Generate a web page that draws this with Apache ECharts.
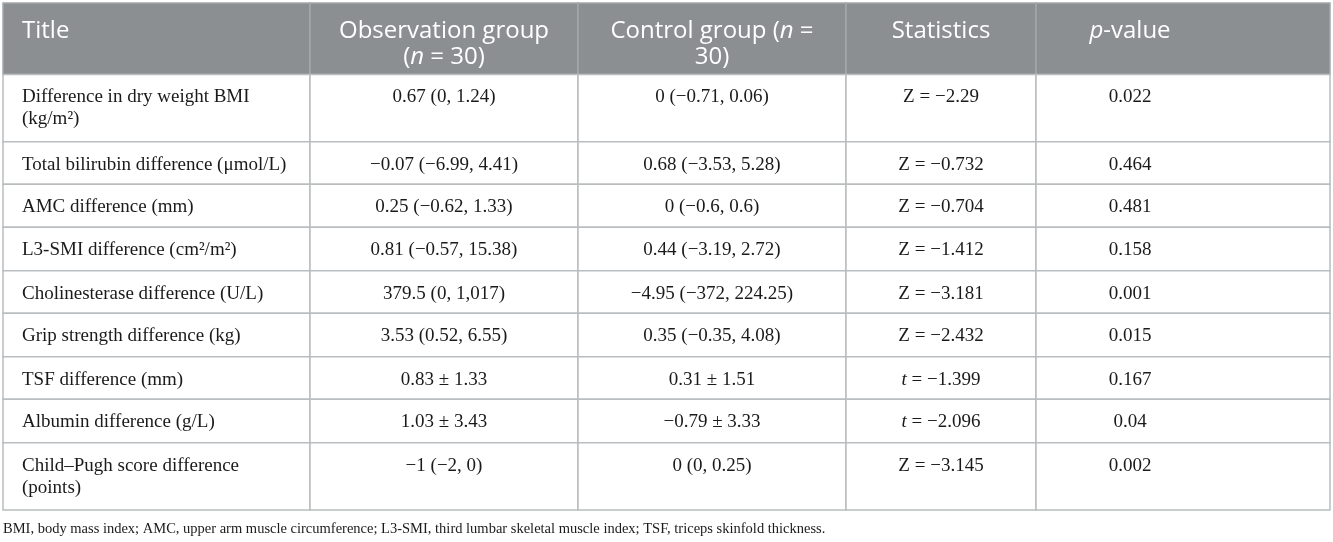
<!DOCTYPE html>
<html>
<head>
<meta charset="utf-8">
<script src="https://cdn.jsdelivr.net/npm/echarts@6/dist/echarts.min.js"></script>
<style>
html,body{margin:0;padding:0;background:#fff;}
#chart{width:1333px;height:542px;}
</style>
</head>
<body>
<div id="chart"></div>
<script>
// ---- data ----
const headers = ["Title", "Observation group\n(n = 30)", "Control group (n =\n30)", "Statistics", "p-value"];
const titles = [
  "Difference in dry weight BMI\n(kg/m²)",
  "Total bilirubin difference (μmol/L)",
  "AMC difference (mm)",
  "L3-SMI difference (cm²/m²)",
  "Cholinesterase difference (U/L)",
  "Grip strength difference (kg)",
  "TSF difference (mm)",
  "Albumin difference (g/L)",
  "Child–Pugh score difference\n(points)"
];
const observation = ["0.67 (0, 1.24)", "−0.07 (−6.99, 4.41)", "0.25 (−0.62, 1.33)", "0.81 (−0.57, 15.38)", "379.5 (0, 1,017)", "3.53 (0.52, 6.55)", "0.83 ± 1.33", "1.03 ± 3.43", "−1 (−2, 0)"];
const control = ["0 (−0.71, 0.06)", "0.68 (−3.53, 5.28)", "0 (−0.6, 0.6)", "0.44 (−3.19, 2.72)", "−4.95 (−372, 224.25)", "0.35 (−0.35, 4.08)", "0.31 ± 1.51", "−0.79 ± 3.33", "0 (0, 0.25)"];
const statistics = ["Z = −2.29", "Z = −0.732", "Z = −0.704", "Z = −1.412", "Z = −3.181", "Z = −2.432", "t = −1.399", "t = −2.096", "Z = −3.145"];
const pValues = ["0.022", "0.464", "0.481", "0.158", "0.001", "0.015", "0.167", "0.04", "0.002"];
const footnote = "BMI, body mass index; AMC, upper arm muscle circumference; L3-SMI, third lumbar skeletal muscle index; TSF, triceps skinfold thickness.";

// ---- layout (positions in the hidden value axes) ----
const colEdges = [3, 310, 578, 846, 1036, 1330];
const colAlign = ['left', 'center', 'center', 'center', 'center'];
const colAnchor = [22, 444, 712, 941, 1130];
const headerEdges = [3, 74.5];
const rowEdges = [74.5, 141.7, 184.3, 227.3, 270.7, 313.3, 356.7, 399.3, 442.7, 510];

function richify(s) {
  return s.replace(/(^|\()([ntp])(?=( =|-value))/g, '$1{i|$2}');
}

const columns = [titles, observation, control, statistics, pValues];
const cells = [];
headers.forEach((h, c) => cells.push({ c: c, r: -1, text: h }));
for (let r = 0; r < titles.length; r++) {
  for (let c = 0; c < columns.length; c++) {
    cells.push({ c: c, r: r, text: columns[c][r] });
  }
}

function renderCell(params, api) {
  const cell = cells[params.dataIndex];
  const isHeader = cell.r < 0;
  const top = isHeader ? headerEdges[0] : rowEdges[cell.r];
  const bottom = isHeader ? headerEdges[1] : rowEdges[cell.r + 1];
  const p0 = api.coord([colEdges[cell.c], top]);
  const p1 = api.coord([colEdges[cell.c + 1], bottom]);
  const anchor = api.coord([colAnchor[cell.c], top]);
  const serif = '"Liberation Serif", "Times New Roman", serif';
  const sans = '"Open Sans", "Noto Sans", sans-serif';
  const fs = isHeader ? 24 : 19;
  const lh = isHeader ? 26 : 22;
  const color = isHeader ? '#ffffff' : '#1a1a1a';
  return {
    type: 'group',
    children: [
      {
        type: 'rect',
        shape: { x: p0[0], y: p0[1], width: p1[0] - p0[0], height: p1[1] - p0[1] },
        style: {
          fill: isHeader ? '#8b8f92' : '#ffffff',
          stroke: isHeader ? '#a4a8aa' : '#b9bdbf',
          lineWidth: 1.5
        }
      },
      {
        type: 'text',
        style: {
          x: anchor[0],
          y: anchor[1] + (isHeader ? 15 : 12),
          text: richify(cell.text),
          align: colAlign[cell.c],
          verticalAlign: 'top',
          fill: color,
          fontFamily: isHeader ? sans : serif,
          fontSize: fs,
          fontWeight: 'normal',
          lineHeight: lh,
          rich: {
            i: {
              fontStyle: 'italic',
              fontFamily: isHeader ? sans : serif,
              fontSize: fs,
              fontWeight: 'normal',
              fill: color,
              lineHeight: lh
            }
          }
        }
      }
    ]
  };
}

const chart = echarts.init(document.getElementById('chart'), null, { renderer: 'canvas' });
chart.setOption({
  animation: false,
  backgroundColor: '#ffffff',
  title: {
    text: footnote,
    left: 0,
    top: 522,
    padding: [0, 0, 0, 3],
    textStyle: {
      fontFamily: '"Liberation Serif", "Times New Roman", serif',
      fontSize: 14.5,
      fontWeight: 'normal',
      color: '#1a1a1a'
    }
  },
  grid: { left: 0, right: 0, top: 0, bottom: 0 },
  xAxis: { type: 'value', min: 0, max: 1333, show: false },
  yAxis: { type: 'value', min: 0, max: 542, inverse: true, show: false },
  series: [{
    type: 'custom',
    renderItem: renderCell,
    data: cells.map(cell => [cell.c, cell.r]),
    silent: true,
    clip: false
  }]
});
</script>
</body>
</html>
